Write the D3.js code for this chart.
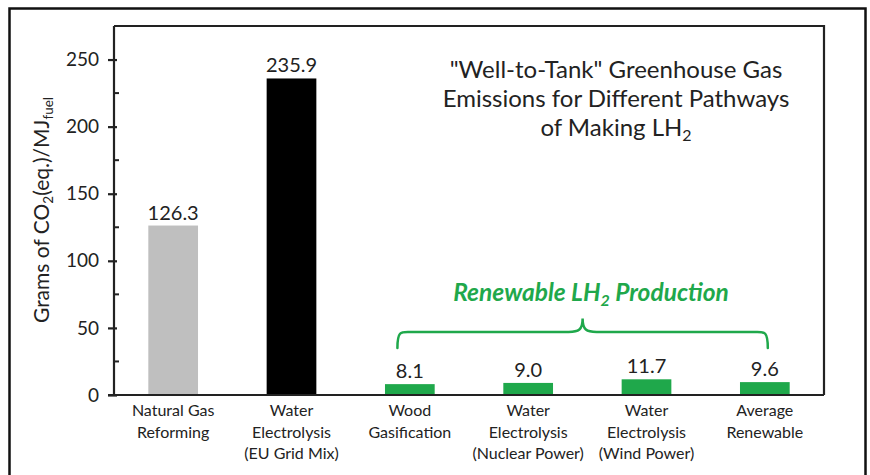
<!DOCTYPE html>
<html>
<head>
<meta charset="utf-8">
<script src="https://cdn.jsdelivr.net/npm/d3@7"></script>
<style>
  html, body { margin: 0; padding: 0; background: #fff; }
  svg { display: block; }
  text { font-family: Lato, "Open Sans", sans-serif; fill: #222; }
</style>
</head>
<body>
<svg id="chart" width="870" height="475"></svg>
<script>
// Well-to-tank greenhouse gas emissions by LH2 production pathway
const categories = [
  ["Natural Gas", "Reforming"],
  ["Water", "Electrolysis", "(EU Grid Mix)"],
  ["Wood", "Gasification"],
  ["Water", "Electrolysis", "(Nuclear Power)"],
  ["Water", "Electrolysis", "(Wind Power)"],
  ["Average", "Renewable"]
];
const values = [126.3, 235.9, 8.1, 9.0, 11.7, 9.6];
const labels = ["126.3", "235.9", "8.1", "9.0", "11.7", "9.6"];
const colors = ["#bfbfbf", "#000000", "#1fa84b", "#1fa84b", "#1fa84b", "#1fa84b"];
const yTicks = [0, 50, 100, 150, 200, 250];
const yMinorTicks = [25, 75, 125, 175, 225];
const renewableIdx = [2, 3, 4, 5];

const svg = d3.select("#chart");
const green = "#1fa84b";

// outer frame
svg.append("rect").attr("x", 9.5).attr("y", 8.5).attr("width", 856).attr("height", 480)
  .attr("fill", "none").attr("stroke", "#111").attr("stroke-width", 2.5);

const plot = { left: 114, right: 824, top: 26, bottom: 395 };

const x = d3.scaleBand().domain(d3.range(values.length))
  .range([plot.left, plot.right]).paddingInner(0.58).paddingOuter(0.29);
const y = d3.scaleLinear().domain([0, 275]).range([plot.bottom, plot.top]);

// bars
svg.append("g").selectAll("rect").data(values).join("rect")
  .attr("x", (d, i) => x(i))
  .attr("y", d => y(d))
  .attr("width", x.bandwidth())
  .attr("height", d => y(0) - y(d))
  .attr("fill", (d, i) => colors[i]);

// value labels
svg.append("g").selectAll("text").data(values).join("text")
  .attr("x", (d, i) => x(i) + x.bandwidth() / 2)
  .attr("y", d => y(d) - 6)
  .attr("text-anchor", "middle")
  .attr("font-size", 20)
  .text((d, i) => labels[i]);

// plot frame (top and right)
svg.append("path")
  .attr("d", `M${plot.left},${plot.top}H${plot.right}V${plot.bottom}`)
  .attr("fill", "none").attr("stroke", "#222").attr("stroke-width", 2.2);

// y axis
const yAxis = svg.append("g").attr("transform", `translate(${plot.left},0)`)
  .call(d3.axisLeft(y).tickValues(yTicks).tickSize(6).tickPadding(9).tickFormat(d3.format("d")));
yAxis.select(".domain").attr("stroke", "#222").attr("stroke-width", 2.2)
  .attr("d", `M0,${plot.top}V${plot.bottom}`);
yAxis.selectAll(".tick line").attr("stroke", "#222").attr("stroke-width", 2.2).attr("x2", -6).attr("x1", 3);
yAxis.selectAll(".tick text").attr("font-size", 19).attr("font-family", "Lato, sans-serif").attr("fill", "#222");
svg.append("g").selectAll("line").data(yMinorTicks).join("line")
  .attr("x1", plot.left).attr("x2", plot.left + 5)
  .attr("y1", d => y(d)).attr("y2", d => y(d))
  .attr("stroke", "#222").attr("stroke-width", 2);

// x axis line
svg.append("line").attr("x1", plot.left - 6).attr("x2", plot.right)
  .attr("y1", plot.bottom).attr("y2", plot.bottom)
  .attr("stroke", "#222").attr("stroke-width", 2.2);

// category labels
const xl = svg.append("g");
categories.forEach((lines, i) => {
  const t = xl.append("text")
    .attr("x", x(i) + x.bandwidth() / 2)
    .attr("y", 416)
    .attr("text-anchor", "middle")
    .attr("font-size", 16);
  lines.forEach((ln, j) => {
    t.append("tspan").attr("x", x(i) + x.bandwidth() / 2).attr("dy", j === 0 ? 0 : 21.5).text(ln);
  });
});

// y axis title
const yt = svg.append("text")
  .attr("transform", `translate(49,${210}) rotate(-90)`)
  .attr("text-anchor", "middle")
  .attr("font-size", 21);
yt.append("tspan").text("Grams of CO");
yt.append("tspan").attr("font-size", 13.5).attr("dy", 4).text("2");
yt.append("tspan").attr("dy", -4).text("(eq.)/MJ");
yt.append("tspan").attr("font-size", 13.5).attr("dy", 4).text("fuel");

// chart title
const titleLines = ["\"Well-to-Tank\" Greenhouse Gas", "Emissions for Different Pathways"];
const tg = svg.append("g");
titleLines.forEach((ln, j) => {
  tg.append("text").attr("x", 616).attr("y", 78 + j * 29)
    .attr("text-anchor", "middle").attr("font-size", 24).text(ln);
});
const t3 = tg.append("text").attr("x", 616).attr("y", 136)
  .attr("text-anchor", "middle").attr("font-size", 24);
t3.append("tspan").text("of Making LH");
t3.append("tspan").attr("font-size", 16).attr("dy", 5).text("2");

// renewable group brace
const bx0 = x(renewableIdx[0]) + x.bandwidth() * 0.25;
const bx1 = x(renewableIdx[renewableIdx.length - 1]) + x.bandwidth() * 0.56;
const bm = (bx0 + bx1) / 2;
const yEnd = y(35), yMid = y(47), yTip = y(57);
const r = 14;
const brace = `M${bx0},${yEnd}` +
  `C${bx0},${yMid - 2} ${bx0 + 4},${yMid} ${bx0 + r},${yMid}` +
  `H${bm - r}` +
  `C${bm - 4},${yMid} ${bm},${yMid - 2} ${bm},${yTip}` +
  `C${bm},${yMid - 2} ${bm + 4},${yMid} ${bm + r},${yMid}` +
  `H${bx1 - r}` +
  `C${bx1 - 4},${yMid} ${bx1},${yMid - 2} ${bx1},${yEnd}`;
svg.append("path").attr("d", brace).attr("fill", "none")
  .attr("stroke", green).attr("stroke-width", 2.5).attr("stroke-linecap", "round");

const rt = svg.append("text").attr("x", 591).attr("y", 301)
  .attr("text-anchor", "middle").attr("font-size", 24.5)
  .attr("font-weight", "bold").attr("font-style", "italic")
  .style("fill", green);
rt.append("tspan").text("Renewable LH");
rt.append("tspan").attr("font-size", 16).attr("dy", 5).text("2");
rt.append("tspan").attr("dy", -5).text(" Production");
</script>
</body>
</html>
